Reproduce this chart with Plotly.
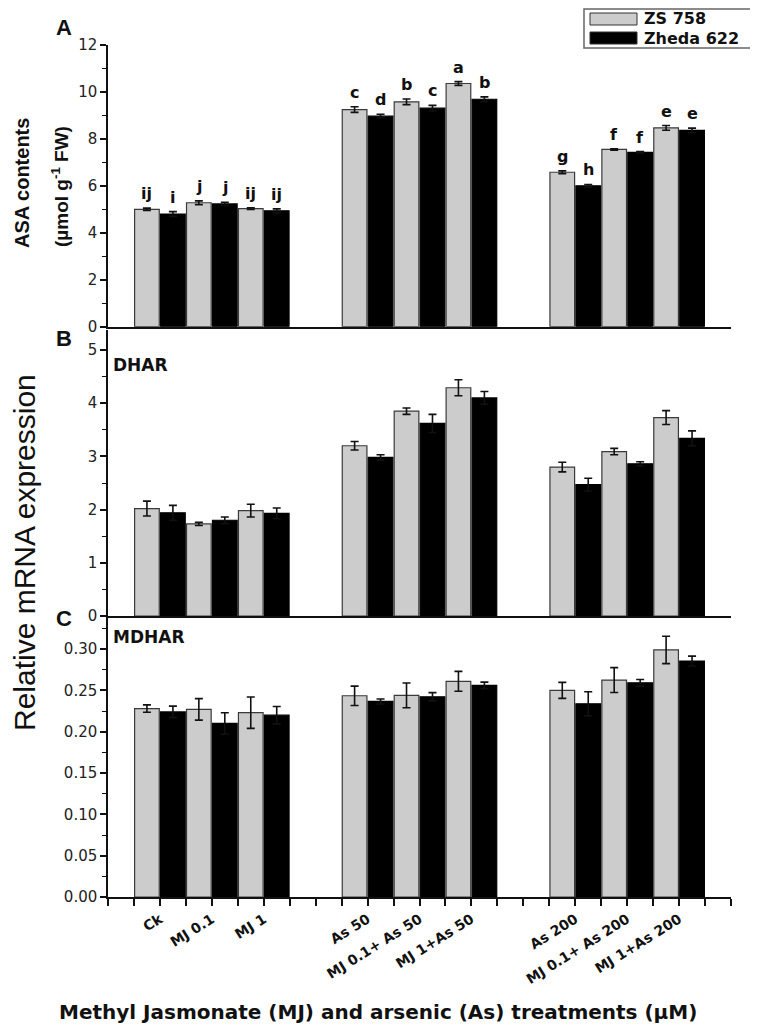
import plotly.graph_objects as go

# treatments on the x axis, two cultivars per treatment
treatments = ["Ck", "MJ 0.1", "MJ 1", "As 50", "MJ 0.1+ As 50", "MJ 1+As 50",
              "As 200", "MJ 0.1+ As 200", "MJ 1+As 200"]
cultivars = ["ZS 758", "Zheda 622"]

# A: ASA contents (umol g-1 FW)
asa_zs = [5.00, 5.28, 5.03, 9.25, 9.58, 10.36, 6.58, 7.55, 8.47]
asa_zs_err = [0.05, 0.08, 0.04, 0.12, 0.12, 0.08, 0.06, 0.03, 0.10]
asa_zd = [4.80, 5.23, 4.94, 8.97, 9.31, 9.69, 6.00, 7.43, 8.36]
asa_zd_err = [0.10, 0.07, 0.08, 0.08, 0.12, 0.10, 0.06, 0.03, 0.10]
asa_zs_letters = ["ij", "j", "ij", "c", "b", "a", "g", "f", "e"]
asa_zd_letters = ["i", "j", "ij", "d", "c", "b", "h", "f", "e"]

# B: DHAR relative expression
dhar_zs = [2.02, 1.73, 1.98, 3.20, 3.85, 4.29, 2.80, 3.09, 3.73]
dhar_zs_err = [0.14, 0.03, 0.12, 0.08, 0.06, 0.15, 0.09, 0.06, 0.13]
dhar_zd = [1.94, 1.80, 1.93, 2.98, 3.62, 4.10, 2.47, 2.86, 3.34]
dhar_zd_err = [0.14, 0.06, 0.10, 0.05, 0.17, 0.12, 0.12, 0.04, 0.14]

# C: MDHAR relative expression
mdhar_zs = [0.228, 0.227, 0.223, 0.2435, 0.244, 0.261, 0.250, 0.2625, 0.299]
mdhar_zs_err = [0.0045, 0.013, 0.019, 0.0117, 0.015, 0.012, 0.0097, 0.015, 0.0166]
mdhar_zd = [0.224, 0.210, 0.220, 0.2366, 0.2423, 0.256, 0.2338, 0.2592, 0.2855]
mdhar_zd_err = [0.007, 0.013, 0.0105, 0.003, 0.005, 0.004, 0.0145, 0.004, 0.006]

GRAY = "#cccccc"
BLACK = "#000000"
FONT = "Liberation Sans, Arial, sans-serif"
WIDE = "DejaVu Sans, sans-serif"

# the page body adds an 8px margin, so the figure is drawn 8px in from the corner
OFF = 8
W, H = 758 - OFF, 1028 - OFF
ML = 108 - OFF
MT = 45 - OFF
MR = W - (731 - OFF)
MB = H - (897 - OFF)


def px(xp, yp):
    # reference-page pixels -> paper coordinates
    xf, yf = xp - OFF, yp - OFF
    return (xf - ML) / (W - ML - MR), (H - MB - yf) / (H - MT - MB)


# three groups of three treatments, an empty slot between groups
xpos = [i + i // 3 + 1 for i in range(len(treatments))]

fig = go.Figure()

panels = [
    ("y", asa_zs, asa_zs_err, asa_zd, asa_zd_err),
    ("y2", dhar_zs, dhar_zs_err, dhar_zd, dhar_zd_err),
    ("y3", mdhar_zs, mdhar_zs_err, mdhar_zd, mdhar_zd_err),
]
for k, (ya, zs, zs_e, zd, zd_e) in enumerate(panels):
    xa = "x" if k == 0 else "x%d" % (k + 1)
    fig.add_trace(go.Bar(
        x=xpos, y=zs, name=cultivars[0], xaxis=xa, yaxis=ya,
        marker=dict(color=GRAY, line=dict(color="#3a3a3a", width=1.2)),
        error_y=dict(type="data", array=zs_e, color="#111", thickness=1.6, width=4),
        showlegend=False, offsetgroup="zs"))
    fig.add_trace(go.Bar(
        x=xpos, y=zd, name=cultivars[1], xaxis=xa, yaxis=ya,
        marker=dict(color=BLACK, line=dict(color="#000", width=1.2)),
        error_y=dict(type="data", array=zd_e, color="#111", thickness=1.6, width=4),
        showlegend=False, offsetgroup="zd"))

# significance letters on panel A
for x, v, e, t in zip(xpos, asa_zs, asa_zs_err, asa_zs_letters):
    fig.add_annotation(x=x - 0.25, y=v + e, xref="x", yref="y", text=t, showarrow=False,
                       yanchor="bottom", yshift=3, font=dict(family=WIDE, size=16, color="#111", weight="bold"))
for x, v, e, t in zip(xpos, asa_zd, asa_zd_err, asa_zd_letters):
    fig.add_annotation(x=x + 0.25, y=v + e, xref="x", yref="y", text=t, showarrow=False,
                       yanchor="bottom", yshift=3, font=dict(family=WIDE, size=16, color="#111", weight="bold"))

axis_line = dict(showline=True, linecolor="#111", linewidth=1.5, showgrid=False, zeroline=False)
ytick = dict(ticks="outside", ticklen=6, tickwidth=1.5, tickcolor="#111",
             tickfont=dict(family=WIDE, size=15, color="#222"))
yminor = dict(ticks="outside", ticklen=4, tickwidth=1.2, tickcolor="#111", showgrid=False)

yA0 = px(0, 326.7)[1]
yB0, yB1 = px(0, 616)[1], px(0, 330)[1]
yC1 = px(0, 618)[1]

fig.update_layout(
    width=W, height=H,
    margin=dict(l=ML, r=MR, t=MT, b=MB),
    paper_bgcolor="white", plot_bgcolor="white",
    barmode="group", bargap=0, bargroupgap=0.05,
    font=dict(family=FONT, color="#111"),
    xaxis=dict(domain=[0, 1], anchor="y", range=[0, 12], showticklabels=False, ticks="", **axis_line),
    xaxis2=dict(domain=[0, 1], anchor="y2", range=[0, 12], showticklabels=False, ticks="", **axis_line),
    xaxis3=dict(domain=[0, 1], anchor="y3", range=[0, 12], tickmode="array",
                tickvals=xpos, ticktext=treatments, ticks="outside", ticklen=7,
                tickwidth=1.5, tickcolor="#111", tickangle=-32,
                minor=dict(tickmode="linear", tick0=0, dtick=0.5, ticks="outside", ticklen=7,
                           tickwidth=1.5, tickcolor="#111", showgrid=False),
                tickfont=dict(family=WIDE, size=14, color="#111", weight="bold"), **axis_line),
    yaxis=dict(domain=[yA0, 1], anchor="x", range=[0, 12], dtick=2,
               minor=dict(dtick=1, **yminor), **ytick, **axis_line),
    yaxis2=dict(domain=[yB0, yB1], anchor="x2", range=[0, 5.376], dtick=1,
                minor=dict(dtick=0.5, **yminor), **ytick, **axis_line),
    yaxis3=dict(domain=[0, yC1], anchor="x3", range=[0, 0.3376], dtick=0.05, tickformat=".2f",
                minor=dict(dtick=0.025, **yminor), **ytick, **axis_line),
)


def note(xp, yp, text, size, family=FONT, bold=True, angle=0, xanchor="center"):
    x, y = px(xp, yp)
    fig.add_annotation(x=x, y=y, xref="paper", yref="paper", text=text, showarrow=False,
                       textangle=angle, xanchor=xanchor, yanchor="middle", borderpad=0,
                       font=dict(family=family, size=size, color="#111",
                                 weight="bold" if bold else "normal"))


# panel letters and gene names
note(64, 27, "A", 22)
note(64, 338, "B", 22)
note(64, 618, "C", 22)
note(112, 365, "DHAR", 17, family=WIDE, xanchor="left")
note(112, 637, "MDHAR", 17, family=WIDE, xanchor="left")

# axis titles
note(22, 183, "ASA contents", 20, angle=-90)
note(60, 187, "(µmol g<sup>-1</sup> FW)", 19, angle=-90)
note(24, 553, "Relative mRNA expression", 30, bold=False, angle=-90)
note(378, 1012, "Methyl Jasmonate (MJ) and arsenic (As) treatments (µM)", 20, family=WIDE)

# legend box drawn by hand (wide swatches)
bx0, by0 = px(584, 48)
bx1, by1 = px(752, 9)
fig.add_shape(type="rect", xref="paper", yref="paper", x0=bx0, y0=by0, x1=bx1, y1=by1,
              line=dict(color="#666", width=1.5), fillcolor="white")
for (y_top, y_bot), name, col in zip([(13, 25), (32, 44)], cultivars, [GRAY, BLACK]):
    sx0, sy0 = px(590, y_bot)
    sx1, sy1 = px(637, y_top)
    fig.add_shape(type="rect", xref="paper", yref="paper", x0=sx0, y0=sy0, x1=sx1, y1=sy1,
                  line=dict(color="#333", width=1), fillcolor=col)
    note(643, (y_top + y_bot) / 2, name, 16, family=WIDE, xanchor="left")

fig.write_html("out.html")
